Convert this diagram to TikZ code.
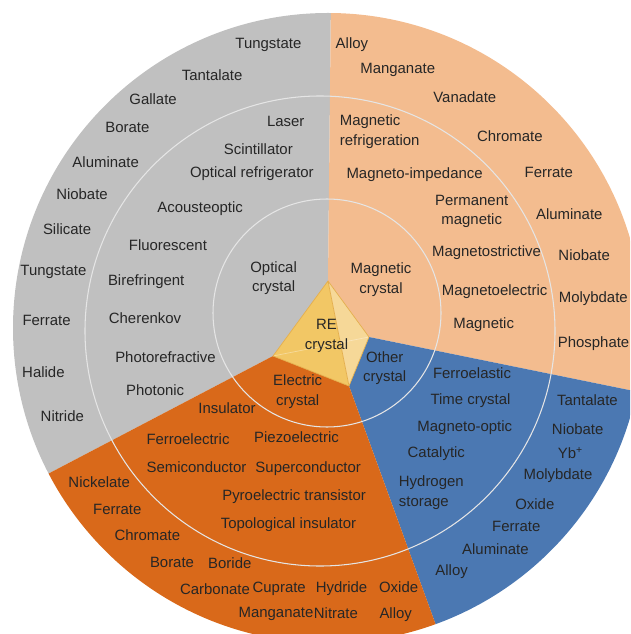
\documentclass[tikz,border=0pt]{standalone}
\usepackage{fontspec}
\setmainfont{Liberation Sans}
\definecolor{optic}{HTML}{C0C0C0}
\definecolor{magnet}{HTML}{F3BC8F}
\definecolor{other}{HTML}{4B78B2}
\definecolor{electric}{HTML}{D9691A}
\definecolor{redark}{HTML}{F2C765}
\definecolor{relight}{HTML}{F6D898}
\definecolor{reedge}{HTML}{E4AE4C}
\definecolor{txt}{HTML}{262626}

\begin{document}
\begin{tikzpicture}[x=0.02cm, y=-0.02cm,
  every node/.style={inner sep=0pt, align=center, text=txt, font=\fontsize{8.5}{11}\selectfont},
  ring/.style={draw=white!90!black, line width=0.6pt}]
  \useasboundingbox (0,0) rectangle (630,634);
  \clip (0,0) rectangle (630,634);
  \coordinate (T) at (328,281);
  \coordinate (R) at (369,337);
  \coordinate (B) at (349,386);
  \coordinate (L) at (273,356);
  \begin{scope}
    \clip (328,328) circle (315);
    \fill[optic] (T) -- (332,-100) -- (-200,-100) -- (-170,588) -- (L) -- cycle;
    \fill[magnet] (T) -- (332,-100) -- (900,-100) -- (889,443) -- (R) -- cycle;
    \fill[other] (R) -- (889,443) -- (900,900) -- (518,851) -- (B) -- cycle;
    \fill[electric] (B) -- (518,851) -- (-200,900) -- (-170,588) -- (L) -- cycle;
  \end{scope}
  \draw[ring] (320,331) circle (235);
  \draw[ring] (327,313) circle (114);
  \fill[redark] (T) -- (L) -- (B) -- cycle;
  \fill[relight] (T) -- (R) -- (B) -- cycle;
  \draw[white, opacity=0.35, line width=0.4pt] (L) -- (R);
  \draw[reedge, line width=0.4pt] (T) -- (R) -- (B) -- (L) -- cycle (T) -- (B);

  \node (re) at (326.50, 336.00) {RE\\crystal};
  \node (oc) at (273.60, 278.00) {Optical\\crystal};
  \node (mc) at (381.00, 279.50) {Magnetic\\crystal};
  \node (xc) at (384.70, 368.30) {Other\\crystal};
  \node (ec) at (297.70, 391.70) {Electric\\crystal};

  \node (om1) at (285.70, 121.70) {Laser};
  \node (om2) at (258.30, 149.50) {Scintillator};
  \node (om3) at (251.90, 174.00) {Optical refrigerator};
  \node (om4) at (200.10, 208.50) {Acousteoptic};
  \node (om5) at (167.90, 244.70) {Fluorescent};
  \node (om6) at (146.20, 281.60) {Birefringent};
  \node (om7) at (145.00, 318.20) {Cherenkov};
  \node (om8) at (165.50, 356.80) {Photorefractive};
  \node (om9) at (155.10, 390.10) {Photonic};

  \node (oo1) at (268.40, 45.40) {Tungstate};
  \node (oo2) at (212.10, 74.70) {Tantalate};
  \node (oo3) at (153.10, 98.80) {Gallate};
  \node (oo4) at (127.40, 127.00) {Borate};
  \node (oo5) at (105.70, 161.90) {Aluminate};
  \node (oo6) at (82.00, 194.00) {Niobate};
  \node (oo7) at (67.10, 229.40) {Silicate};
  \node (oo8) at (53.40, 272.00) {Tungstate};
  \node (oo9) at (46.60, 320.60) {Ferrate};
  \node (oo10) at (43.40, 372.00) {Halide};
  \node (oo11) at (62.30, 416.20) {Nitride};

  \node[anchor=west, align=left] (mm1) at (339.50, 131.60) {Magnetic\\refrigeration};
  \node (mm2) at (414.60, 174.40) {Magneto-impedance};
  \node (mm3) at (471.70, 211.70) {Permanent\\magnetic};
  \node (mm4) at (486.50, 252.30) {Magnetostrictive};
  \node (mm5) at (494.60, 291.70) {Magnetoelectric};
  \node (mm6) at (483.70, 325.00) {Magnetic};

  \node (mo1) at (351.90, 44.60) {Alloy};
  \node (mo2) at (397.70, 69.90) {Manganate};
  \node (mo3) at (464.80, 96.80) {Vanadate};
  \node (mo4) at (509.80, 135.80) {Chromate};
  \node (mo5) at (548.80, 172.00) {Ferrate};
  \node (mo6) at (569.30, 214.10) {Aluminate};
  \node (mo7) at (584.20, 255.10) {Niobate};
  \node[anchor=west] (mo8) at (558.50, 298.50) {Molybdate};
  \node[anchor=west] (mo9) at (557.50, 343.50) {Phosphate};

  \node (xm1) at (472.00, 372.80) {Ferroelastic};
  \node (xm2) at (470.50, 400.20) {Time crystal};
  \node (xm3) at (464.80, 427.90) {Magneto-optic};
  \node (xm4) at (436.30, 453.60) {Catalytic};
  \node[anchor=west, align=left] (xm5) at (398.60, 492.60) {Hydrogen\\storage};

  \node (xo1) at (587.40, 400.20) {Tantalate};
  \node (xo2) at (577.70, 429.50) {Niobate};
  \node (xo3) at (570.50, 453.20) {Yb\textsuperscript{+}};
  \node (xo4) at (558.00, 475.70) {Molybdate};
  \node (xo5) at (534.80, 504.60) {Oxide};
  \node (xo6) at (516.30, 526.70) {Ferrate};
  \node (xo7) at (495.40, 548.80) {Aluminate};
  \node (xo8) at (451.60, 571.30) {Alloy};

  \node (em1) at (227.00, 408.60) {Insulator};
  \node (em2) at (188.00, 439.10) {Ferroelectric};
  \node (em3) at (296.50, 437.10) {Piezoelectric};
  \node (em4) at (196.50, 467.30) {Semiconductor};
  \node (em5) at (308.20, 468.90) {Superconductor};
  \node (em6) at (294.10, 496.60) {Pyroelectric transistor};
  \node (em7) at (288.50, 524.70) {Topological insulator};

  \node (eo1) at (99.20, 482.10) {Nickelate};
  \node (eo2) at (117.30, 509.00) {Ferrate};
  \node (eo3) at (147.40, 535.20) {Chromate};
  \node (eo4) at (172.00, 562.50) {Borate};
  \node (eo5) at (229.80, 563.30) {Boride};
  \node (eo6) at (215.00, 589.00) {Carbonate};
  \node (eo7) at (279.20, 589.00) {Cuprate};
  \node (eo8) at (341.50, 588.20) {Hydride};
  \node (eo9) at (398.60, 587.40) {Oxide};
  \node (eo10) at (276.00, 613.50) {Manganate};
  \node (eo11) at (335.90, 613.50) {Nitrate};
  \node (eo12) at (395.70, 614.30) {Alloy};
\end{tikzpicture}
\end{document}
